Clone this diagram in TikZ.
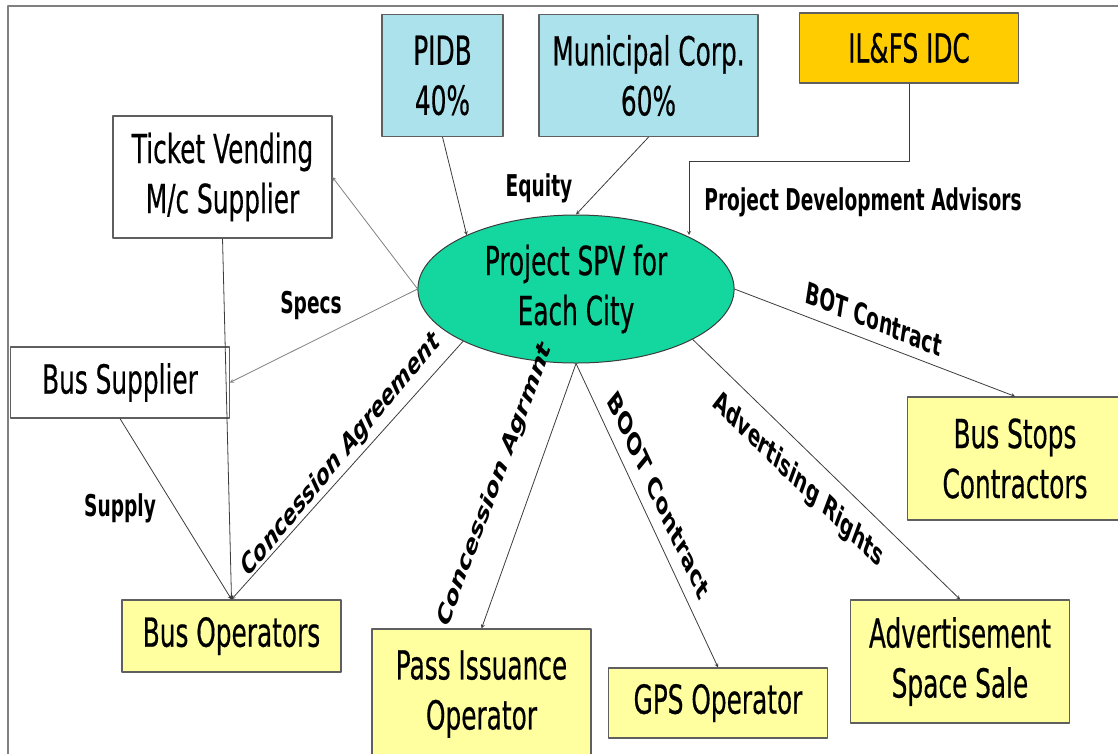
\documentclass[tikz,border=0pt]{standalone}
\usepackage{fontspec}
\setmainfont{DejaVu Sans}[UprightFeatures={FakeBold=0.6}]
\usetikzlibrary{shapes.geometric}

\definecolor{equityblue}{RGB}{172,226,236}
\definecolor{advgold}{RGB}{255,204,0}
\definecolor{partyyellow}{RGB}{255,255,160}
\definecolor{spvgreen}{RGB}{20,215,160}
\definecolor{boxline}{RGB}{95,95,95}
\definecolor{linkgray}{RGB}{60,60,60}

\newcommand\boxfont{\fontsize{40}{50}\selectfont}
\newcommand\lblfont{\fontsize{30}{34}\selectfont\bfseries}

\begin{document}
\begin{tikzpicture}[x=1.6129pt,y=-1pt,xscale=0.62,transform shape,line join=round,>=stealth,
	box/.style={draw=boxline,line width=1.2pt,inner sep=0pt,align=center,font=\boxfont,
		minimum width=353pt,minimum height=122pt,fill=white},
	flat/.style={minimum height=71pt},
	equity/.style={box,fill=equityblue},
	party/.style={box,fill=partyyellow},
	spv/.style={ellipse,draw=linkgray,line width=1pt,fill=spvgreen,inner sep=0pt,align=center,
		font=\boxfont,minimum width=510pt,minimum height=148pt},
	link/.style={->,draw=linkgray,line width=0.8pt},
	soft/.style={->,draw=gray,line width=0.8pt},
	lbl/.style={font=\lblfont,inner sep=1pt}]
	\clip (0,0) rectangle (1118,753);
	\draw[gray,line width=2pt] (8,6) rectangle (1140,770);
	% owners and advisors on top
	\node[equity,minimum width=195pt] (pidb) at (442.5,75.5) {PIDB\\40\%};
	\node[equity] (muni) at (648.5,75.5) {Municipal Corp.\\60\%};
	\node[box,flat,fill=advgold,minimum height=70pt] (ilfs) at (909,48) {IL\&FS IDC};
	% the SPV
	\node[spv] (spv) at (576,289) {Project SPV for\\Each City};
	% suppliers on the left
	\node[box] (tvm) at (222.5,177) {Ticket Vending\\M/c Supplier};
	\node[box,flat] (bsup) at (120,382.5) {Bus Supplier};
	% operators and contractors
	\node[party,flat,minimum height=72pt] (bop) at (231.5,636) {Bus Operators};
	\node[party,minimum height=130pt] (pass) at (481.5,694) {Pass Issuance\\Operator};
	\node[party,flat,minimum height=70pt] (gps) at (718,703) {GPS Operator};
	\node[party,minimum height=123pt] (adv) at (960,661.5) {Advertisement\\Space Sale};
	\node[party,minimum width=348pt,minimum height=123pt] (bstop) at (1015,458.5) {Bus Stops\\Contractors};
	\coordinate (pda) at (689,161);
	% connectors
	\draw[link] (pidb.south) -- (spv.163);
	\draw[link] (muni.south) -- (spv.north);
	\draw[link] (ilfs.south) |- (pda) -- (pda |- spv.17);
	\draw[soft] (spv.west) -- (tvm.east);
	\draw[soft] (spv.west) -- (bsup.east);
	\draw[link] (tvm.south) -- (bop.north);
	\draw[link] (bsup.south) -- (bop.north);
	\draw[link] (spv.196) -- (bop.north);
	\draw[link] (spv.south) -- (pass.north);
	\draw[link] (spv.south) -- (gps.north);
	\draw[link] (spv.-15) -- (adv.north);
	\draw[link] (spv.east) -- (bstop.north);
	% labels
	\node[lbl] (equitylbl) at (539,188) {Equity};
	\node[lbl] (pdalbl) at (863,202) {Project Development Advisors};
	\node[lbl] (specslbl) at (311,305) {Specs};
	\node[lbl] (supplylbl) at (120,508) {Supply};
	\node[lbl,rotate=37] (conclbl) at (341,455) {Concession Agreement};
	\node[lbl,rotate=59] (agrlbl) at (495,485) {Concession Agrmnt};
	\node[lbl,rotate=-53] (bootlbl) at (659,495) {BOOT Contract};
	\node[lbl,rotate=-31] (adlbl) at (798,480) {Advertising Rights};
	\node[lbl,rotate=-14] (botlbl) at (874,319) {BOT Contract};
\end{tikzpicture}
\end{document}
